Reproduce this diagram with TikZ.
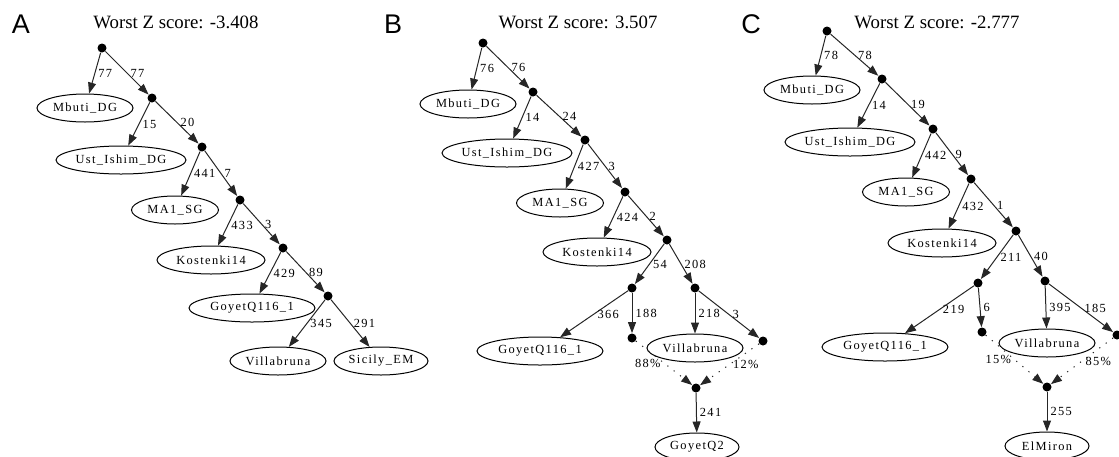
\documentclass[tikz,border=0pt]{standalone}
\usepackage{fontspec}
\setmainfont{Liberation Serif}
\newfontfamily\lblfont[LetterSpace=11]{Liberation Serif}
\newfontfamily\panelfont{Liberation Sans}
\usetikzlibrary{arrows.meta, shapes.geometric}
\newcommand{\lblsize}{\lblfont\fontsize{6.2pt}{7pt}\selectfont}

\tikzset{
  pop/.style={draw, ellipse, line width=0.5pt, minimum height=14pt, inner sep=0pt, font=\lblsize},
  junc/.style={circle, fill=black, inner sep=0pt, minimum size=4.5pt},
  edge/.style={-{Triangle[length=5.5pt, width=4pt]}, line width=0.5pt, draw=black!85},
  mixedge/.style={edge, dash pattern=on 0.6pt off 3.4pt},
  elbl/.style={font=\lblsize, inner sep=1.5pt, anchor=west},
  ttl/.style={font=\fontsize{9.4pt}{11pt}\selectfont},
  panel/.style={font=\panelfont\fontsize{13.5pt}{15pt}\selectfont},
}

\begin{document}
\begin{tikzpicture}[x=0.5pt, y=-0.5pt]
  \useasboundingbox (0,0) rectangle (1119,456);

  % Panel A
  \node[panel] (labA) at (21,24) {A};
  \node[ttl] (ttlA) at (176,22) {Worst Z score: -3.408};
  \node[junc] (a0) at (102,48) {};
  \node[junc] (a1) at (152,98) {};
  \node[junc] (a2) at (202,147) {};
  \node[junc] (a3) at (240,200) {};
  \node[junc] (a4) at (283,248) {};
  \node[junc] (a5) at (328,296) {};
  \node[pop, minimum width=48pt] (aMbuti) at (85,108) {Mbuti\_DG};
  \node[pop, minimum width=65pt] (aUst) at (121,160) {Ust\_Ishim\_DG};
  \node[pop, minimum width=43.5pt] (aMA1) at (175,210) {MA1\_SG};
  \node[pop, minimum width=54pt] (aKost) at (211,260) {Kostenki14};
  \node[pop, minimum width=63pt] (aGoyet) at (252,308) {GoyetQ116\_1};
  \node[pop, minimum width=48pt] (aVilla) at (278,361) {Villabruna};
  \node[pop, minimum width=47pt] (aSicily) at (381,361) {Sicily\_EM};

  \draw[edge] (a0) -- (aMbuti) node[elbl, midway] {77};
  \draw[edge] (a0) -- (a1) node[elbl, midway] {77};
  \draw[edge] (a1) -- (aUst) node[elbl, midway] {15};
  \draw[edge] (a1) -- (a2) node[elbl, midway] {20};
  \draw[edge] (a2) -- (aMA1) node[elbl, midway] {441};
  \draw[edge] (a2) -- (a3) node[elbl, midway] {7};
  \draw[edge] (a3) -- (aKost) node[elbl, midway] {433};
  \draw[edge] (a3) -- (a4) node[elbl, midway] {3};
  \draw[edge] (a4) -- (aGoyet) node[elbl, midway] {429};
  \draw[edge] (a4) -- (a5) node[elbl, midway] {89};
  \draw[edge] (a5) -- (aVilla) node[elbl, midway] {345};
  \draw[edge] (a5) -- (aSicily) node[elbl, midway] {291};

  % Panel B
  \node[panel] (labB) at (393,24) {B};
  \node[ttl] (ttlB) at (578,22) {Worst Z score: 3.507};
  \node[junc] (b0) at (483,43) {};
  \node[junc] (b1) at (533,92) {};
  \node[junc] (b2) at (585,140) {};
  \node[junc] (b3) at (625,192) {};
  \node[junc] (b4) at (667,240) {};
  \node[junc] (b5L) at (632,288) {};
  \node[junc] (b5R) at (695,288) {};
  \node[junc] (bLeafL) at (632,338) {};
  \node[junc] (bLeafR) at (763,341) {};
  \node[junc] (bMix) at (696,388) {};
  \node[pop, minimum width=48pt] (bMbuti) at (468,104) {Mbuti\_DG};
  \node[pop, minimum width=65pt] (bUst) at (507,153) {Ust\_Ishim\_DG};
  \node[pop, minimum width=43.5pt] (bMA1) at (560,203) {MA1\_SG};
  \node[pop, minimum width=54pt] (bKost) at (597,252) {Kostenki14};
  \node[pop, minimum width=63pt] (bGoyet) at (540,351) {GoyetQ116\_1};
  \node[pop, minimum width=48pt] (bVilla) at (695,348) {Villabruna};
  \node[pop, minimum width=42pt] (bGoyetQ2) at (697,447) {GoyetQ2};

  \draw[edge] (b0) -- (bMbuti) node[elbl, midway] {76};
  \draw[edge] (b0) -- (b1) node[elbl, midway] {76};
  \draw[edge] (b1) -- (bUst) node[elbl, midway] {14};
  \draw[edge] (b1) -- (b2) node[elbl, midway] {24};
  \draw[edge] (b2) -- (bMA1) node[elbl, midway] {427};
  \draw[edge] (b2) -- (b3) node[elbl, midway] {3};
  \draw[edge] (b3) -- (bKost) node[elbl, midway] {424};
  \draw[edge] (b3) -- (b4) node[elbl, midway] {2};
  \draw[edge] (b4) -- (b5L) node[elbl, midway] {54};
  \draw[edge] (b4) -- (b5R) node[elbl, midway] {208};
  \draw[edge] (b5L) -- (bGoyet) node[elbl, midway] {366};
  \draw[edge] (b5L) -- (bLeafL) node[elbl, midway] {188};
  \draw[edge] (b5R) -- (bVilla) node[elbl, midway] {218};
  \draw[edge] (b5R) -- (bLeafR) node[elbl, midway] {3};
  \draw[mixedge] (bLeafL) -- (bMix) node[elbl, midway, anchor=east] {88\%};
  \draw[mixedge] (bLeafR) -- (bMix) node[elbl, midway] {12\%};
  \draw[edge] (bMix) -- (bGoyetQ2) node[elbl, midway] {241};

  % Panel C
  \node[panel] (labC) at (751,24) {C};
  \node[ttl] (ttlC) at (937,22) {Worst Z score: -2.777};
  \node[junc] (c0) at (827,31) {};
  \node[junc] (c1) at (882,79) {};
  \node[junc] (c2) at (933,129) {};
  \node[junc] (c3) at (971,179) {};
  \node[junc] (c4) at (1016,231) {};
  \node[junc] (c5L) at (978,283) {};
  \node[junc] (c5R) at (1045,281) {};
  \node[junc] (cLeafL) at (982,332) {};
  \node[junc] (cLeafR) at (1117,335) {};
  \node[junc] (cMix) at (1047,387) {};
  \node[pop, minimum width=48pt] (cMbuti) at (812,90) {Mbuti\_DG};
  \node[pop, minimum width=65pt] (cUst) at (850,142) {Ust\_Ishim\_DG};
  \node[pop, minimum width=43.5pt] (cMA1) at (906,192) {MA1\_SG};
  \node[pop, minimum width=54pt] (cKost) at (942,243) {Kostenki14};
  \node[pop, minimum width=63pt] (cGoyet) at (885,347) {GoyetQ116\_1};
  \node[pop, minimum width=48pt] (cVilla) at (1047,343) {Villabruna};
  \node[pop, minimum width=42pt] (cElMiron) at (1047,446) {ElMiron};

  \draw[edge] (c0) -- (cMbuti) node[elbl, midway] {78};
  \draw[edge] (c0) -- (c1) node[elbl, midway] {78};
  \draw[edge] (c1) -- (cUst) node[elbl, midway] {14};
  \draw[edge] (c1) -- (c2) node[elbl, midway] {19};
  \draw[edge] (c2) -- (cMA1) node[elbl, midway] {442};
  \draw[edge] (c2) -- (c3) node[elbl, midway] {9};
  \draw[edge] (c3) -- (cKost) node[elbl, midway] {432};
  \draw[edge] (c3) -- (c4) node[elbl, midway] {1};
  \draw[edge] (c4) -- (c5L) node[elbl, midway] {211};
  \draw[edge] (c4) -- (c5R) node[elbl, midway] {40};
  \draw[edge] (c5L) -- (cGoyet) node[elbl, midway] {219};
  \draw[edge] (c5L) -- (cLeafL) node[elbl, midway] {6};
  \draw[edge] (c5R) -- (cVilla) node[elbl, midway] {395};
  \draw[edge] (c5R) -- (cLeafR) node[elbl, midway] {185};
  \draw[mixedge] (cLeafL) -- (cMix) node[elbl, midway, anchor=east] {15\%};
  \draw[mixedge] (cLeafR) -- (cMix) node[elbl, midway] {85\%};
  \draw[edge] (cMix) -- (cElMiron) node[elbl, midway] {255};
\end{tikzpicture}
\end{document}
